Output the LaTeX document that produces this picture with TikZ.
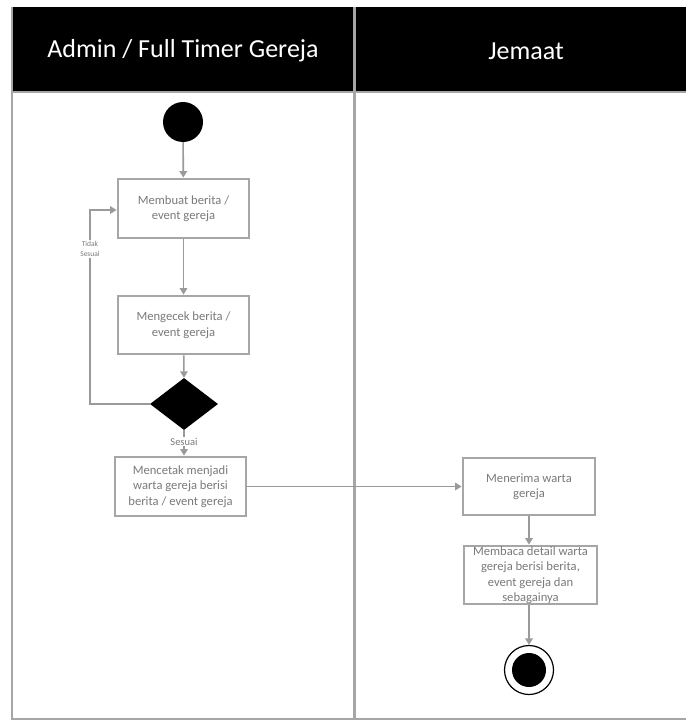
\documentclass[tikz,border=0pt]{standalone}
\usepackage{fontspec}
\setmainfont{Carlito}
\usetikzlibrary{shapes.geometric,arrows.meta}
\definecolor{boxgray}{HTML}{A6A6A6}
\definecolor{txtgray}{HTML}{7A7A7A}
\definecolor{lngray}{HTML}{9A9A9A}
\tikzset{
  x=1pt,y=-1pt,
  actbox/.style={draw=boxgray,line width=2.8pt,fill=white,text=txtgray,align=center,
    inner sep=0pt,font=\fontsize{12.6}{15.5}\selectfont},
  flow/.style={draw=lngray,line width=1.6pt,-{Triangle[width=7.5pt,length=6.5pt]}},
  lbl/.style={fill=white,text=txtgray,inner sep=1pt},
  headtxt/.style={text=white,font=\fontsize{26}{30}\selectfont},
}
\begin{document}
\begin{tikzpicture}
\useasboundingbox (0,0) rectangle (686,720);
% swimlane frame
\fill[black] (12,7) rectangle (686,92);
\draw[boxgray,line width=2pt] (12,92) -- (686,92);
\draw[boxgray,line width=2pt] (12,7) -- (12,719) -- (686,719);
\draw[boxgray,line width=2.6pt] (354.5,7) -- (354.5,720);
\node[headtxt] (h1) at (183,51) {Admin / Full Timer Gereja};
\node[headtxt] (h2) at (526,51) {Jemaat};
% nodes
\node[circle,fill=black,minimum size=40pt,inner sep=0pt] (start) at (183,122) {};
\node[actbox,minimum width=131pt,minimum height=59pt] (b1) at (183.5,208.5) {Membuat berita /\\event gereja};
\node[actbox,minimum width=131pt,minimum height=58pt] (b2) at (183.5,325) {Mengecek berita /\\event gereja};
\node[diamond,fill=black,minimum width=68pt,minimum height=52pt,inner sep=0pt,aspect=1.3] (d) at (184,404) {};
\node[actbox,minimum width=131pt,minimum height=59pt] (b3) at (180.5,486.5) {Mencetak menjadi\\warta gereja berisi\\berita / event gereja};
\node[actbox,minimum width=132pt,minimum height=57pt] (b4) at (529,486.5) {Menerima warta\\gereja};
\node[actbox,minimum width=133pt,minimum height=58pt] (b5) at (530.5,575) {Membaca detail warta\\gereja berisi berita,\\event gereja dan\\sebagainya};
\node[circle,draw=black,line width=1.2pt,minimum size=49pt,inner sep=0pt] (end) at (529,670) {};
\node[circle,fill=black,minimum size=34pt,inner sep=0pt] (endin) at (529,670) {};
\coordinate (lp1) at (90,404);
\coordinate (lp2) at (90,210);
% connectors
\draw[flow] (start) -- (b1);
\draw[flow] (b1) -- (b2);
\draw[flow] (b2) -- (d.north);
\draw[flow] (d.south) -- node[lbl,font=\fontsize{10.5}{12}\selectfont,pos=0.45] (s1) {Sesuai} (b3.north -| d.south);
\draw[flow] (d.west) -- (lp1) -- node[lbl,align=center,font=\fontsize{7.5}{10.5}\selectfont,pos=0.8] (s2) {Tidak\\Sesuai} (lp2) -- (lp2 -| b1.west);
\draw[flow] (b3.east) -- (b4.west);
\draw[flow] (b4.south) -- (b5.north -| b4.south);
\draw[flow] (b5.south -| end.north) -- (end.north);
\end{tikzpicture}
\end{document}
